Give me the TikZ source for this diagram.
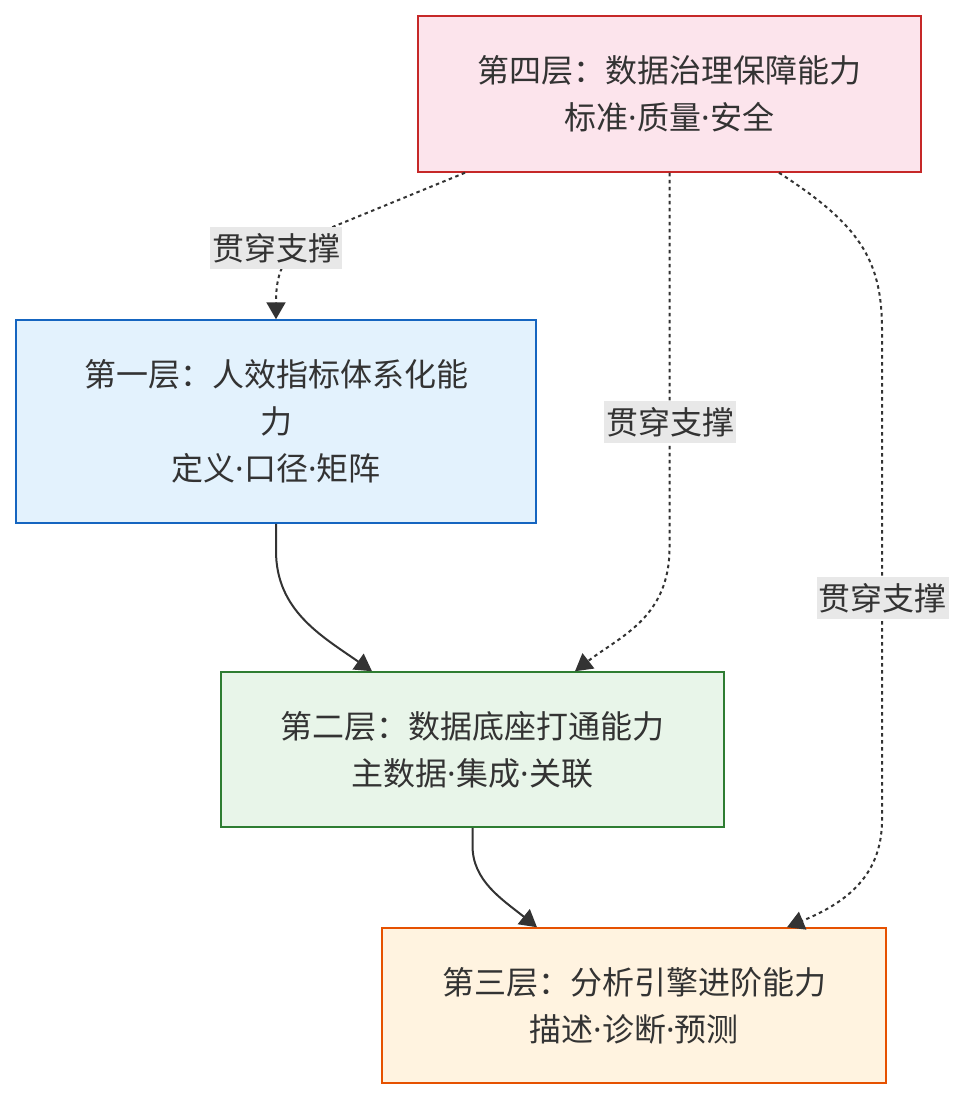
\documentclass[tikz,border=0pt]{standalone}
\usepackage{fontspec}
\setmainfont{Noto Sans CJK SC}
\newfontfamily\dotfont{Noto Sans}
\newcommand\pdot{{\dotfont\char"00B7}}
\usetikzlibrary{arrows.meta}
\definecolor{txt}{HTML}{333333}
\definecolor{pinkfill}{HTML}{FCE4EC}
\definecolor{pinkline}{HTML}{C62828}
\definecolor{bluefill}{HTML}{E3F2FD}
\definecolor{blueline}{HTML}{1565C0}
\definecolor{greenfill}{HTML}{E8F5E9}
\definecolor{greenline}{HTML}{2E7D32}
\definecolor{orangefill}{HTML}{FFF3E0}
\definecolor{orangeline}{HTML}{E65100}
\definecolor{lblbg}{HTML}{E8E8E8}
\tikzset{
  layer/.style={rectangle, draw, line width=1.5pt, text=txt, align=center,
    font=\fontsize{32}{47}\selectfont, inner sep=0pt},
  lbl/.style={fill=lblbg, text=txt, font=\fontsize{32}{40}\selectfont,
    inner xsep=2pt, inner ysep=0pt, minimum height=42pt},
  conn/.style={draw=txt, line width=2pt, -{Triangle[length=17pt,width=19pt]}},
  dotconn/.style={conn, dash pattern=on 3.5pt off 3.5pt},
}
\begin{document}
\begin{tikzpicture}[x=1pt,y=-1pt]
\useasboundingbox (0,0) rectangle (963,1100);
\node[layer, fill=pinkfill, draw=pinkline, minimum width=503pt, minimum height=156pt] (n4) at (669.5,94) {第四层：数据治理保障能力\\标准\pdot 质量\pdot 安全};
\node[layer, fill=bluefill, draw=blueline, minimum width=520pt, minimum height=203pt] (n1) at (276,421.5) {第一层：人效指标体系化能\\力\\定义\pdot 口径\pdot 矩阵};
\node[layer, fill=greenfill, draw=greenline, minimum width=503pt, minimum height=155pt] (n2) at (472.5,749.5) {第二层：数据底座打通能力\\主数据\pdot 集成\pdot 关联};
\node[layer, fill=orangefill, draw=orangeline, minimum width=504pt, minimum height=155pt] (n3) at (634,1005.5) {第三层：分析引擎进阶能力\\描述\pdot 诊断\pdot 预测};

% solid connectors
\draw[conn] (n1.south) -- ++(0,27) .. controls +(0,60) and +(-50,-35) .. ([xshift=-100.5pt]n2.north);
\draw[conn] (n2.south) -- ++(0,18) .. controls +(0,35) and +(-35,-28) .. ([xshift=-97pt]n3.north);

% dotted connectors
\draw[dotconn] ([xshift=-204.5pt]n4.south) -- (335,226) .. controls (290,246) and (276,262) .. (n1.north);
\draw[dotconn] (n4.south) -- ++(0,375) .. controls +(0,70) and +(45,-35) .. ([xshift=102.5pt]n2.north);
\draw[dotconn] ([xshift=109.5pt]n4.south) .. controls (860,225) and (882,260) .. (882,330) -- (882,820) .. controls (882,880) and (840,905) .. ([xshift=153pt]n3.north);

% labels
\node[lbl] (l1) at (276,248) {贯穿支撑};
\node[lbl] (l2) at (670,422) {贯穿支撑};
\node[lbl] (l3) at (882.5,598) {贯穿支撑};
\end{tikzpicture}
\end{document}
